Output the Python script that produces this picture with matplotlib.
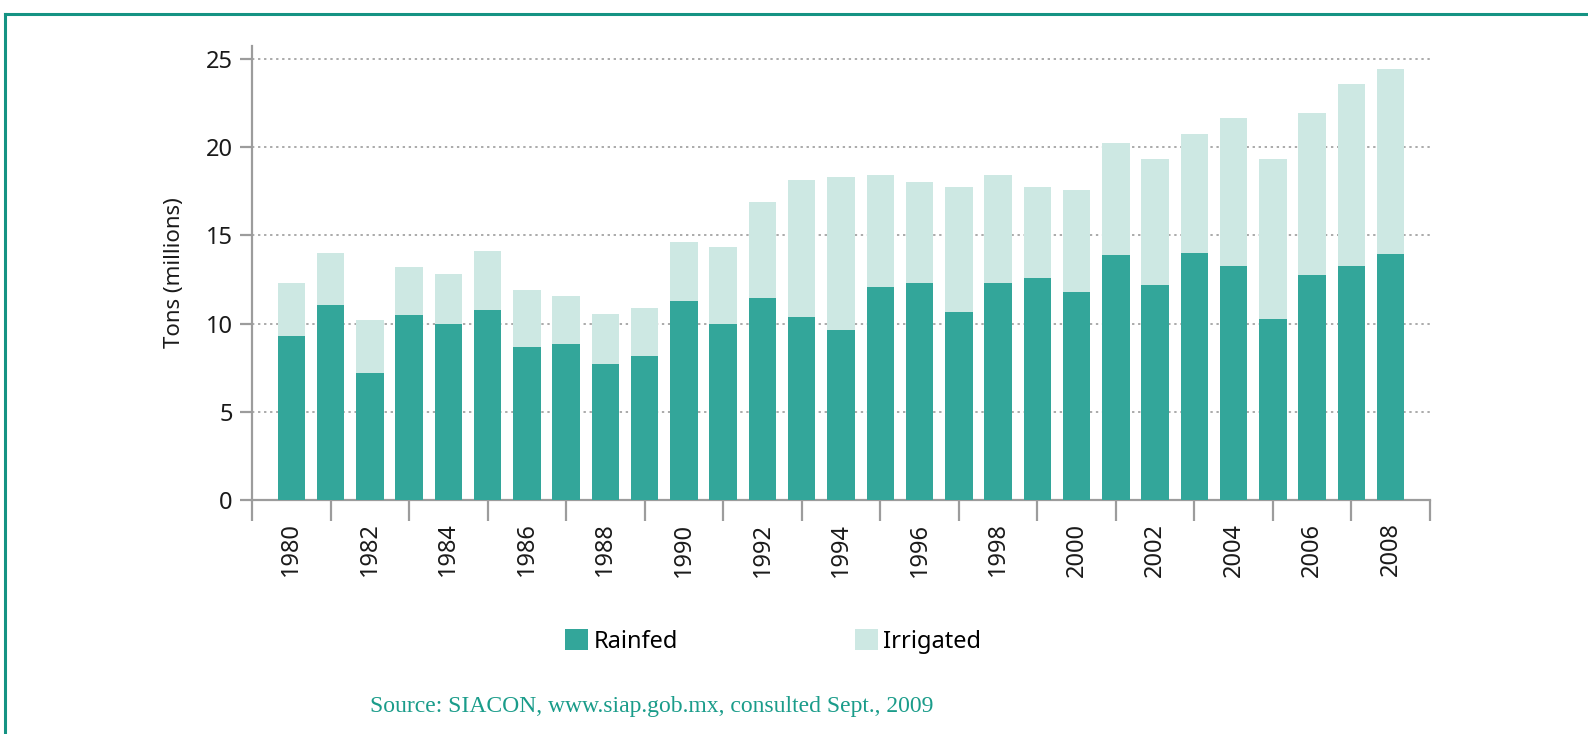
import matplotlib
matplotlib.use("Agg")
import matplotlib.pyplot as plt
from matplotlib.lines import Line2D
from matplotlib.ticker import FixedLocator, NullFormatter
import numpy as np

years = list(range(1980, 2009))
rainfed = [9.32, 11.08, 7.19, 10.51, 10.00, 10.80, 8.70, 8.87, 7.73, 8.19,
           11.29, 10.00, 11.48, 10.40, 9.66, 12.10, 12.31, 10.68, 12.31, 12.61,
           11.82, 13.90, 12.22, 14.03, 13.24, 10.29, 12.78, 13.29, 13.97]
total = [12.31, 14.03, 10.21, 13.22, 12.82, 14.13, 11.91, 11.59, 10.55, 10.89,
         14.64, 14.35, 16.91, 18.15, 18.32, 18.44, 18.04, 17.76, 18.44, 17.76,
         17.59, 20.25, 19.35, 20.76, 21.67, 19.35, 21.96, 23.56, 24.45]
irrigated = [t - r for t, r in zip(total, rainfed)]
series_names = ["Rainfed", "Irrigated"]
yticks = [0, 5, 10, 15, 20, 25]
label_years = list(range(1980, 2009, 2))
source_text = "Source: SIACON, www.siap.gob.mx, consulted Sept., 2009"

c_rain = "#33a69a"
c_irr = "#cde8e3"
c_axis = "#9c9c9c"
c_frame = "#159383"

plt.rcParams['font.family'] = ['Noto Sans', 'DejaVu Sans']

fig = plt.figure(figsize=(15.88, 7.34), dpi=100)
ax = fig.add_axes([0.1587, 0.3184, 0.9005 - 0.1587, 0.9379 - 0.3184])

ax.bar(years, rainfed, width=0.7, color=c_rain, label=series_names[0], zorder=3)
ax.bar(years, irrigated, width=0.7, bottom=rainfed, color=c_irr,
       label=series_names[1], zorder=3)

ax.set_xlim(1979, 2009)
ax.set_ylim(0, 25.75)

for s in ["top", "right"]:
    ax.spines[s].set_visible(False)
for s in ["left", "bottom"]:
    ax.spines[s].set_color(c_axis)
    ax.spines[s].set_linewidth(1.6)

ax.set_yticks(yticks)
ax.set_yticklabels([str(v) for v in yticks], fontsize=17, color="#1a1a1a")
ax.tick_params(axis="y", length=9, width=1.6, color=c_axis, pad=5)
ax.yaxis.grid(True, color="#aaaaaa", linestyle=(0, (1.2, 1.9)), linewidth=1.4, zorder=1)

ax.set_xticks(label_years)
ax.set_xticklabels([str(y) for y in label_years], rotation=90, fontsize=17,
                   color="#1a1a1a")
ax.tick_params(axis="x", which="major", length=0, pad=16)
ax.xaxis.set_minor_locator(FixedLocator(list(range(1979, 2010, 2))))
ax.xaxis.set_minor_formatter(NullFormatter())
ax.tick_params(axis="x", which="minor", length=15, width=1.6, color=c_axis)

ax.set_ylabel("Tons (millions)", fontsize=16, color="#1a1a1a", labelpad=15)

leg = fig.legend(loc="center", bbox_to_anchor=(0.487, 0.126), ncol=2,
                 frameon=False, fontsize=17, handlelength=0.95, handleheight=0.95,
                 handletextpad=0.25, columnspacing=7.5)

fig.text(370 / 1588, 0.038, source_text, fontsize=17, color="#1a9c8a",
         family=["Liberation Serif", "DejaVu Serif"], ha="left", va="center")

fig.add_artist(Line2D([5 / 1588, 1.0], [1 - 14 / 734, 1 - 14 / 734],
                      transform=fig.transFigure, color=c_frame, linewidth=2.2))
fig.add_artist(Line2D([5 / 1588, 5 / 1588], [1 - 14 / 734, 0.0],
                      transform=fig.transFigure, color=c_frame, linewidth=2.2))

fig.savefig("out.png", dpi=100)
